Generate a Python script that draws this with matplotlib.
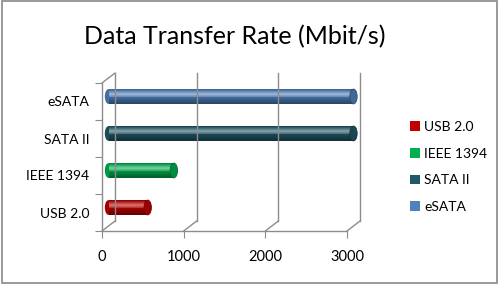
import matplotlib
matplotlib.use("Agg")
import matplotlib.pyplot as plt
import matplotlib.colors as mcolors
from matplotlib.patches import Patch, Ellipse, Rectangle
from matplotlib.transforms import offset_copy
import numpy as np

plt.rcParams['font.family'] = ['Lato', 'DejaVu Sans']

# data
categories = ["USB 2.0", "IEEE 1394", "SATA II", "eSATA"]
rates = [480, 800, 3000, 3000]
colors = ["#C00000", "#00B050", "#215968", "#4F81BD"]
xticks = [0, 1000, 2000, 3000]

fig = plt.figure(figsize=(5, 2.85), dpi=100)
ax = fig.add_axes([102 / 500, 54 / 285, 245 / 500, 148 / 285])
ax.set_xlim(0, 3000)
ax.set_ylim(-0.5, 3.5)
for s in ax.spines.values():
    s.set_visible(False)
ax.patch.set_visible(False)

grey = "#8C8C8C"
back = offset_copy(ax.transData, fig=fig, x=13, y=10, units='dots')
mid = offset_copy(ax.transData, fig=fig, x=6.5, y=5, units='dots')

# front axis lines
ax.plot([0, 0], [-0.5, 3.5], color=grey, lw=1, clip_on=False)
ax.plot([0, 3000], [-0.5, -0.5], color=grey, lw=1, clip_on=False)
# back wall: vertical gridlines + floor diagonals
for x in xticks:
    ax.plot([x, x], [-0.5, 3.5], color=grey, lw=1, transform=back, clip_on=False)
    ax.annotate("", xy=(x, -0.5), xycoords=back, xytext=(x, -0.5),
                textcoords=ax.transData,
                arrowprops=dict(arrowstyle="-", color=grey, lw=1, shrinkA=0, shrinkB=0))
ax.annotate("", xy=(0, 3.5), xycoords=back, xytext=(0, 3.5), textcoords=ax.transData,
            arrowprops=dict(arrowstyle="-", color=grey, lw=1, shrinkA=0, shrinkB=0))

# ticks
ax.set_xticks(xticks)
ax.set_xticklabels([str(t) for t in xticks], fontsize=10.5)
ax.set_yticks(np.arange(-0.5, 4, 1), minor=False)
ax.set_yticklabels([])
ax.set_yticks(range(len(categories)), minor=True)
ax.set_yticklabels(categories, minor=True, fontsize=10)
ax.tick_params(axis='x', length=5, color=grey, pad=9)
ax.tick_params(axis='y', which='major', length=5, color=grey)
ax.tick_params(axis='y', which='minor', length=0, pad=9)

# cylinder bars
h = 0.4
n = 16
for i, (v, c) in enumerate(zip(rates, colors)):
    base = np.array(mcolors.to_rgb(c))
    ys = np.linspace(i - h / 2, i + h / 2, n + 1)
    # end caps
    ax.add_patch(Ellipse((0, i), 90, h, transform=mid, facecolor=base * 0.85,
                         edgecolor='none', clip_on=False))
    for k in range(n):
        t = (k + 0.5) / n  # 0 bottom, 1 top
        d = abs(t - 0.68)
        light = max(0.0, 0.45 - 1.6 * d)
        col = base * (0.55 + 0.45 * (1 - min(1, 1.6 * d))) + (1 - base) * light
        col = np.clip(col, 0, 1)
        ax.barh(ys[k], v, height=ys[k + 1] - ys[k], align='edge', color=col,
                edgecolor='none', transform=mid, linewidth=0, clip_on=False)
    ax.add_patch(Ellipse((v, i), 90, h, transform=mid, facecolor=base * 0.8,
                         edgecolor=base * 0.6, lw=0.6, clip_on=False))

fig.suptitle("Data Transfer Rate (Mbit/s)", x=0.47, y=0.87, fontsize=18, va='center')

handles = [Patch(facecolor=c, edgecolor='none') for c in colors]
fig.legend(handles, categories, loc='center left', bbox_to_anchor=(0.795, 0.414),
           frameon=False, fontsize=10, handlelength=0.7, handleheight=0.7,
           handletextpad=0.3, labelspacing=1.05)

fig.add_artist(Rectangle((0.004, 0.006), 0.99, 0.99, transform=fig.transFigure,
                         fill=False, edgecolor="#888888", lw=1.2))

fig.savefig("out.png", dpi=100)
